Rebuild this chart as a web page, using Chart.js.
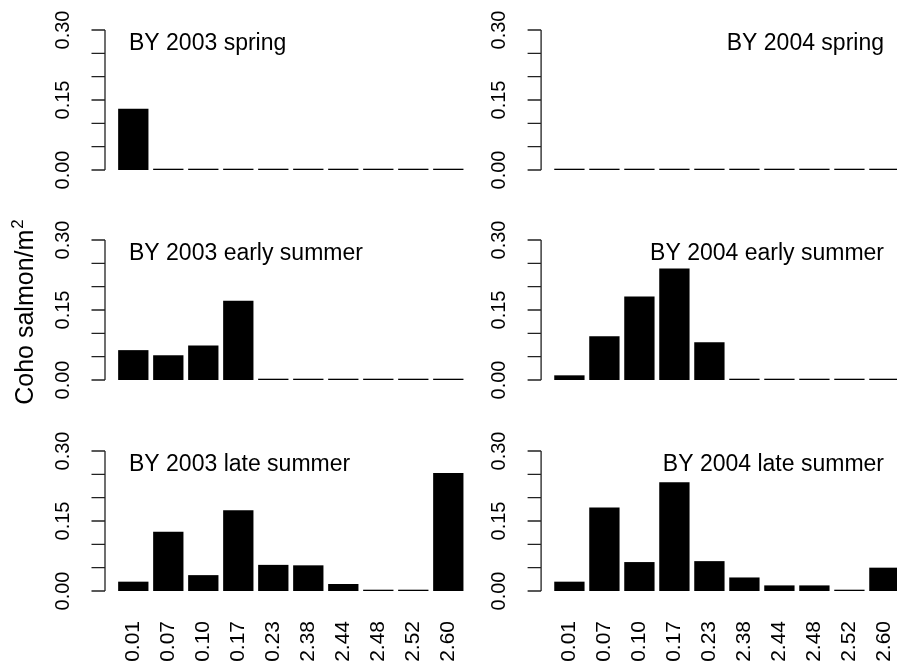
<!DOCTYPE html>
<html><head><meta charset="utf-8">
<script src="https://cdn.jsdelivr.net/npm/chart.js@4.4.0/dist/chart.umd.min.js"></script>
<style>
html,body{margin:0;padding:0;background:#fff;overflow:hidden;width:897px;height:668px;}
canvas{position:absolute;}
</style></head><body>
<canvas id="p0"></canvas><canvas id="p1"></canvas><canvas id="p2"></canvas>
<canvas id="p3"></canvas><canvas id="p4"></canvas><canvas id="p5"></canvas>
<script>
// ---------- DATA ----------
const categories = ['0.01','0.07','0.10','0.17','0.23','2.38','2.44','2.48','2.52','2.60'];
const panelTitles = ['BY 2003 spring','BY 2004 spring','BY 2003 early summer','BY 2004 early summer','BY 2003 late summer','BY 2004 late summer'];
const by2003Spring      = [0.131,0,0,0,0,0,0,0,0,0];
const by2004Spring      = [0,0,0,0,0,0,0,0,0,0];
const by2003EarlySummer = [0.064,0.053,0.074,0.170,0,0,0,0,0,0];
const by2004EarlySummer = [0.010,0.094,0.179,0.239,0.081,0,0,0,0,0];
const by2003LateSummer  = [0.020,0.127,0.034,0.173,0.056,0.055,0.015,0,0,0.253];
const by2004LateSummer  = [0.020,0.179,0.062,0.233,0.064,0.029,0.012,0.012,0,0.050];
const yTickValues = [0,0.05,0.10,0.15,0.20,0.25,0.30];
const yTickLabels = ['0.00','','','0.15','','','0.30'];
const yAxisTitle = 'Coho salmon/m';
const yAxisTitleSup = '2';

// ---------- LAYOUT ----------
const FONT = '"Liberation Sans", Arial, Helvetica, sans-serif';
const seriesList = [by2003Spring, by2004Spring, by2003EarlySummer, by2004EarlySummer, by2003LateSummer, by2004LateSummer];
const cols = [
  {left:0,   width:470, padL:115.8, padR:4.2, titleAlign:'left',  titleX:129},
  {left:470, width:432, padL:81.9,  padR:0.1, titleAlign:'right', titleX:414}
];
const rows = [
  {top:0,   height:205, padT:30, padB:35, xAxis:false},
  {top:205, height:210, padT:35, padB:35, xAxis:false},
  {top:415, height:253, padT:36, padB:0,  xAxis:true, xH:77}
];

const axisPlugin = {
  id:'rAxis',
  afterDraw(chart, args, opts){
    const ctx = chart.ctx, ys = chart.scales.y, ca = chart.chartArea;
    const ax = ca.left - opts.axisGap;
    ctx.save();
    ctx.strokeStyle = '#222'; ctx.lineWidth = 1.3;
    ctx.beginPath();
    ctx.moveTo(ax, ys.getPixelForValue(yTickValues[0]));
    ctx.lineTo(ax, ys.getPixelForValue(yTickValues[yTickValues.length-1]));
    yTickValues.forEach(v => { const py = ys.getPixelForValue(v); ctx.moveTo(ax-13.5, py); ctx.lineTo(ax, py); });
    ctx.stroke();
    ctx.fillStyle = '#000';
    ctx.font = '20px ' + FONT;
    ctx.textAlign = 'center'; ctx.textBaseline = 'middle';
    yTickValues.forEach((v,i) => {
      if (!yTickLabels[i]) return;
      const py = ys.getPixelForValue(v);
      ctx.save(); ctx.translate(ax - 41.5, py); ctx.rotate(-Math.PI/2);
      ctx.fillText(yTickLabels[i], 0, 0); ctx.restore();
    });
    // panel title
    ctx.font = '23px ' + FONT;
    ctx.textAlign = opts.titleAlign; ctx.textBaseline = 'alphabetic';
    ctx.fillText(opts.title, opts.titleX, ca.top + 20);
    // y axis title
    if (opts.yTitle) {
      ctx.save();
      ctx.translate(opts.yTitle.x, opts.yTitle.y);
      ctx.rotate(-Math.PI/2);
      ctx.font = '25px ' + FONT;
      const w1 = ctx.measureText(yAxisTitle).width;
      ctx.font = '17px ' + FONT;
      const w2 = ctx.measureText(yAxisTitleSup).width;
      const start = -(w1 + w2)/2;
      ctx.textAlign = 'left';
      ctx.font = '25px ' + FONT;
      ctx.fillText(yAxisTitle, start, 0);
      ctx.font = '17px ' + FONT;
      ctx.fillText(yAxisTitleSup, start + w1 + 1, -10);
      ctx.restore();
    }
    ctx.restore();
  }
};

seriesList.forEach((series, i) => {
  const col = cols[i % 2], row = rows[Math.floor(i / 2)];
  const cv = document.getElementById('p' + i);
  cv.width = col.width; cv.height = row.height;
  cv.style.left = col.left + 'px'; cv.style.top = row.top + 'px';
  cv.style.width = col.width + 'px'; cv.style.height = row.height + 'px';
  new Chart(cv, {
    type:'bar',
    data:{ labels:categories, datasets:[{ data:series, backgroundColor:'#000', borderWidth:0,
      barPercentage:0.866, categoryPercentage:1, minBarLength:1.3, clip:false }]},
    options:{
      responsive:false, animation:false, devicePixelRatio:1,
      layout:{ padding:{ left:col.padL, right:col.padR, top:row.padT, bottom:row.padB } },
      plugins:{ legend:{display:false}, tooltip:{enabled:false},
        rAxis:{ axisGap:10.8, title:panelTitles[i], titleAlign:col.titleAlign, titleX:col.titleX,
          yTitle: i === 2 ? {x:33, y:312.5 - row.top} : null } },
      scales:{
        y:{ display:false, min:0, max:0.30 },
        x:{ display: row.xAxis,
            grid:{ display:false, drawTicks:false }, border:{ display:false },
            ticks:{ autoSkip:false, minRotation:90, maxRotation:90, padding:30, color:'#000',
                    font:{ family:FONT, size:21 } },
            afterFit: row.xAxis ? (s => { s.height = row.xH; s.paddingLeft = 0; s.paddingRight = 0; }) : undefined }
      }
    },
    plugins:[axisPlugin]
  });
});
</script>
</body></html>
